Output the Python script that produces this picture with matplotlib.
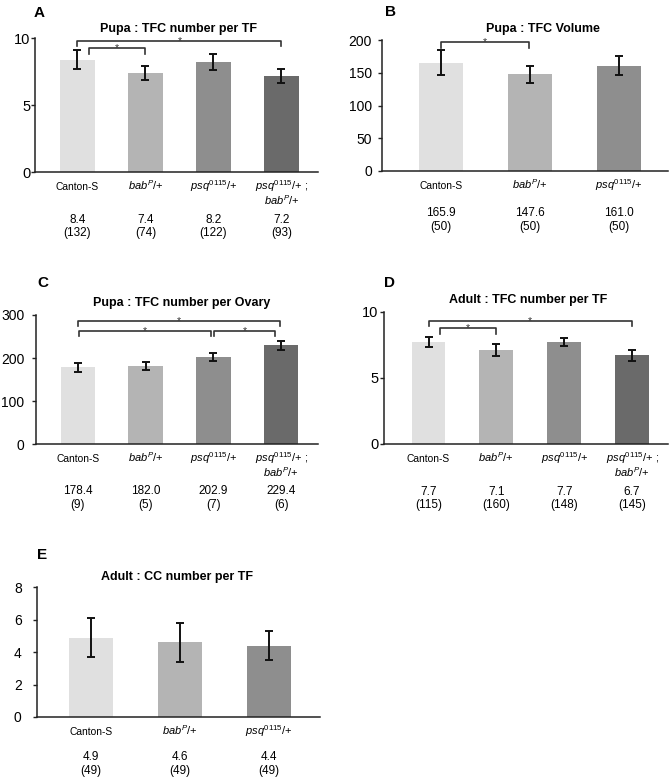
import matplotlib
matplotlib.use('Agg')
import matplotlib.pyplot as plt

plt.rcParams['font.family'] = ['Liberation Sans', 'DejaVu Sans']
plt.rcParams['mathtext.fontset'] = 'custom'
plt.rcParams['mathtext.it'] = 'Liberation Sans:italic'
plt.rcParams['mathtext.rm'] = 'Liberation Sans'
plt.rcParams['mathtext.bf'] = 'Liberation Sans:bold'

W, H = 671, 779

CANTON = ['Canton-S']
BAB = [r'$\mathit{bab}^{\mathit{P}}$/+']
PSQ = [r'$\mathit{psq}^{\mathit{0115}}$/+']
PSQBAB = [r'$\mathit{psq}^{\mathit{0115}}$/+ ;', r'$\mathit{bab}^{\mathit{P}}$/+']

bar_colors = ['#e0e0e0', '#b4b4b4', '#8e8e8e', '#6a6a6a']

# ---------------- data ----------------
a_labels = [CANTON, BAB, PSQ, PSQBAB]
a_means = [8.4, 7.4, 8.2, 7.2]
a_err = [0.7, 0.5, 0.6, 0.5]
a_n = [132, 74, 122, 93]
a_sig = [(0, 3, 9.82, 9.45), (0.17, 1, 9.25, 8.8)]

b_labels = [CANTON, BAB, PSQ]
b_means = [165.9, 147.6, 161.0]
b_err = [18.5, 13.0, 14.5]
b_n = [50, 50, 50]
b_sig = [(0, 0.99, 197.8, 187.7)]

c_labels = [CANTON, BAB, PSQ, PSQBAB]
c_means = [178.4, 182.0, 202.9, 229.4]
c_err = [9.6, 9.5, 9.5, 10.4]
c_n = [9, 5, 7, 6]
c_sig = [(0, 2.98, 287, 274.6), (0.02, 1.96, 263, 251), (2.01, 2.91, 263, 251)]

d_labels = [CANTON, BAB, PSQ, PSQBAB]
d_means = [7.7, 7.1, 7.7, 6.7]
d_err = [0.4, 0.42, 0.32, 0.4]
d_n = [115, 160, 148, 145]
d_sig = [(0, 3.0, 9.32, 8.91), (0.17, 1.0, 8.76, 8.28)]

e_labels = [CANTON, BAB, PSQ]
e_means = [4.9, 4.6, 4.4]
e_err = [1.2, 1.2, 0.9]
e_n = [49, 49, 49]
e_sig = []

panels = [
    dict(letter='A', title='Pupa : TFC number per TF', labels=a_labels, means=a_means,
         err=a_err, n=a_n, sig=a_sig, ylim=(0, 10), yticks=[0, 5, 10],
         box=(35, 318, 38.3, 172.3), xlim=(-0.625, 3.537), width=0.51,
         lpos=(34, 13), tpos=(178, 29), offs=(48, 61), tsize=10.5, pad=0.5),
    dict(letter='B', title='Pupa : TFC Volume', labels=b_labels, means=b_means,
         err=b_err, n=b_n, sig=b_sig, ylim=(0, 200), yticks=[0, 50, 100, 150, 200],
         box=(382, 668, 40.3, 170.8), xlim=(-0.663, 2.551), width=0.49,
         lpos=(385, 12), tpos=(543, 29), offs=(42, 56), tsize=10, pad=4.3),
    dict(letter='C', title='Pupa : TFC number per Ovary', labels=c_labels, means=c_means,
         err=c_err, n=c_n, sig=c_sig, ylim=(0, 300), yticks=[0, 100, 200, 300],
         box=(36, 318, 315, 444.3), xlim=(-0.62, 3.545), width=0.51,
         lpos=(37, 283), tpos=(182, 303), offs=(47, 61), tsize=10, pad=5.5),
    dict(letter='D', title='Adult : TFC number per TF', labels=d_labels, means=d_means,
         err=d_err, n=d_n, sig=d_sig, ylim=(0, 10), yticks=[0, 5, 10],
         box=(384, 668, 311.7, 443.7), xlim=(-0.656, 3.53), width=0.5,
         lpos=(384, 283), tpos=(528, 300), offs=(48, 61), tsize=10.5, pad=1),
    dict(letter='E', title='Adult : CC number per TF', labels=e_labels, means=e_means,
         err=e_err, n=e_n, sig=e_sig, ylim=(0, 8), yticks=[0, 2, 4, 6, 8],
         box=(37, 320, 587.3, 717), xlim=(-0.607, 2.573), width=0.49,
         lpos=(37, 555), tpos=(177, 577), offs=(40, 54), tsize=10, pad=8),
]

fig = plt.figure(figsize=(W / 100, H / 100), dpi=100)
fig.patch.set_facecolor('white')

PT = 0.72  # points per pixel at dpi 100

for p in panels:
    l, r, t, b = p['box']
    ax = fig.add_axes([l / W, 1 - b / H, (r - l) / W, (b - t) / H])
    x = list(range(len(p['means'])))
    ax.bar(x, p['means'], width=p['width'], color=bar_colors[:len(x)], zorder=2)
    ax.errorbar(x, p['means'], yerr=p['err'], fmt='none', ecolor='#111111',
                elinewidth=1.4, capsize=3.2, capthick=1.4, zorder=3)
    ax.set_xlim(*p['xlim'])
    ax.set_ylim(*p['ylim'])
    ax.set_yticks(p['yticks'])
    ax.set_xticks([])
    ax.tick_params(axis='y', labelsize=p['tsize'], length=3, width=1,
                   color='#222222', pad=p['pad'])
    for s in ('top', 'right'):
        ax.spines[s].set_visible(False)
    for s in ('left', 'bottom'):
        ax.spines[s].set_color('#222222')
        ax.spines[s].set_linewidth(1.1)

    trans = ax.get_xaxis_transform()
    for i, (lab, m, n) in enumerate(zip(p['labels'], p['means'], p['n'])):
        for k, line in enumerate(lab):
            fs = 7.4 if line == 'Canton-S' else 8.0
            ax.annotate(line, xy=(i, 0), xycoords=trans, xytext=(0, -(18 + 15 * k) * PT),
                        textcoords='offset points', ha='center', va='baseline',
                        fontsize=fs, annotation_clip=False)
        ax.annotate(f'{m:.1f}', xy=(i, 0), xycoords=trans, xytext=(0, -p['offs'][0] * PT),
                    textcoords='offset points', ha='center', va='center',
                    fontsize=8.5, annotation_clip=False)
        ax.annotate(f'({n})', xy=(i, 0), xycoords=trans, xytext=(0, -p['offs'][1] * PT),
                    textcoords='offset points', ha='center', va='center',
                    fontsize=8.5, annotation_clip=False)

    for (x1, x2, ytop, ylow) in p['sig']:
        ax.plot([x1, x1, x2, x2], [ylow, ytop, ytop, ylow], color='#333333',
                lw=1.2, clip_on=False, zorder=4)
        ax.text((x1 + x2) / 2, ytop, '*', ha='center', va='center', fontsize=7.5,
                color='#333333')

    lx, ly = p['lpos']
    fig.text(lx / W, 1 - ly / H, p['letter'], fontsize=11, fontweight='bold',
             ha='left', va='center')
    tx, ty = p['tpos']
    fig.text(tx / W, 1 - ty / H, p['title'], fontsize=9, fontweight='bold',
             ha='center', va='center')

fig.savefig('out.png', dpi=100, facecolor='white')
